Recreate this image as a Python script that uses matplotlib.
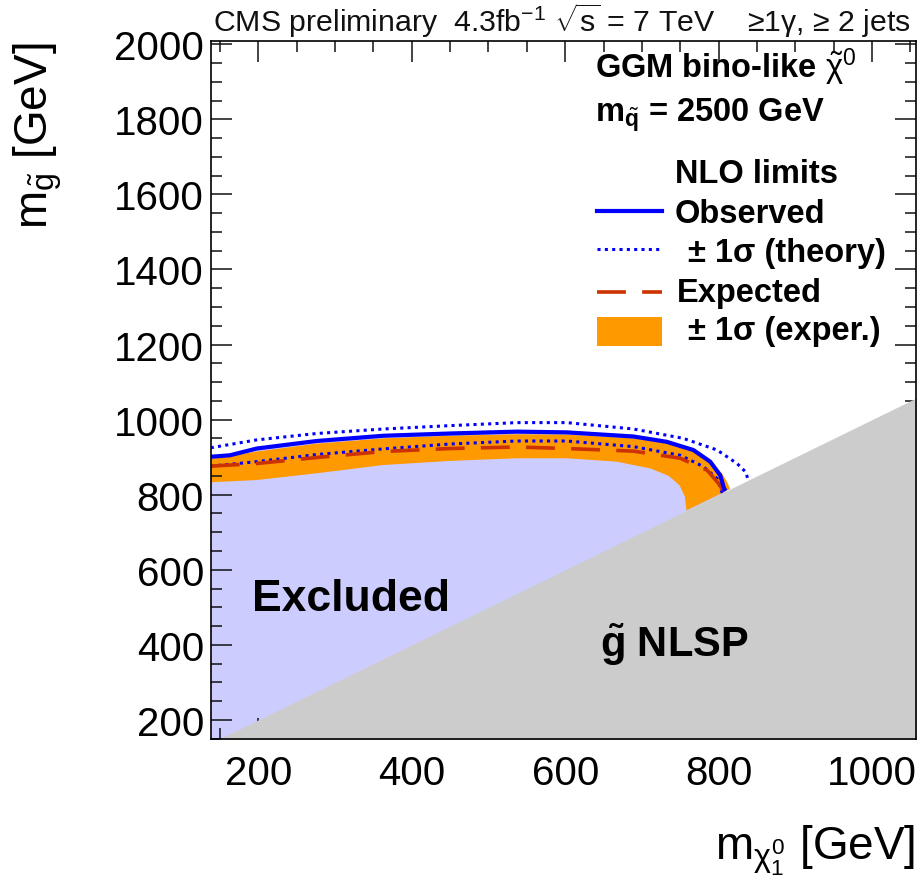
import matplotlib
matplotlib.use("Agg")
import matplotlib.pyplot as plt
from matplotlib.ticker import MultipleLocator
from matplotlib.patches import Rectangle
from matplotlib.lines import Line2D

plt.rcParams['font.family'] = ['Liberation Sans', 'DejaVu Sans']
plt.rcParams['mathtext.fontset'] = 'custom'
plt.rcParams['mathtext.rm'] = 'Liberation Sans'
plt.rcParams['mathtext.it'] = 'Liberation Sans'
plt.rcParams['mathtext.bf'] = 'Liberation Sans:bold'

# ---------------- data ----------------
# observed limit contour (m_chi, m_gluino)
obs_x = [138, 163, 198, 276, 363, 450, 537, 602, 689, 732, 767, 789, 802, 807, 809]
obs_y = [901, 905, 923, 943, 957, 963, 968, 966, 955, 941, 919, 888, 852, 817, 810]
# observed +1 sigma (theory)
thup_x = [138, 198, 276, 363, 450, 537, 602, 689, 754, 798, 824, 835, 838, 840]
thup_y = [925, 946, 963, 975, 984, 992, 992, 975, 950, 919, 883, 861, 843, 840]
# observed -1 sigma (theory)
thdn_x = [138, 198, 276, 363, 450, 537, 602, 689, 750, 780, 798, 804, 805]
thdn_y = [876, 888, 907, 922, 935, 943, 943, 928, 905, 875, 843, 808, 805]
# expected limit
exp_x = [138, 198, 276, 363, 450, 537, 602, 689, 750, 785, 802, 806]
exp_y = [876, 883, 899, 915, 923, 927, 923, 916, 897, 865, 825, 806]
# expected +1 sigma (exper.) band edge
eup_x = [138, 198, 276, 363, 450, 537, 602, 689, 732, 767, 790, 805, 812, 815]
eup_y = [895, 915, 936, 950, 957, 961, 960, 950, 937, 916, 886, 855, 830, 815]
# expected -1 sigma (exper.) band edge
edn_x = [138, 198, 276, 363, 450, 537, 602, 667, 711, 735, 749, 756, 758]
edn_y = [833, 839, 857, 879, 890, 897, 897, 888, 870, 850, 825, 795, 758]
# gluino-NLSP boundary (m_gluino = m_chi)
nlsp_x = [100, 1100]
nlsp_y = [100, 1100]

xticks = [200, 400, 600, 800, 1000]
yticks = [200, 400, 600, 800, 1000, 1200, 1400, 1600, 1800, 2000]

W, H = 922, 887
fig = plt.figure(figsize=(W / 100, H / 100), dpi=100)

L, R, T, B = 211, 915.8, 42.3, 740
ax = fig.add_axes([L / W, 1 - B / H, (R - L) / W, (B - T) / H])
ax.set_xlim(138.3, 1057)
ax.set_ylim(149, 2008)

# fills
ax.fill_between(obs_x, 0, obs_y, color='#CCCCFF', lw=0, zorder=1)
ax.fill(eup_x + edn_x[::-1], eup_y + edn_y[::-1], color='#FF9900', lw=0, zorder=2)
ax.fill_between(nlsp_x, 0, nlsp_y, color='#CCCCCC', lw=0, zorder=3)

# lines
ax.plot(thup_x, thup_y, color='#0000FF', lw=2.2, ls=(0, (1, 1.4)), zorder=4)
ax.plot(thdn_x, thdn_y, color='#0000FF', lw=2.2, ls=(0, (1, 1.4)), zorder=4)
ax.plot(exp_x, exp_y, color='#CC3300', lw=2.6, ls=(0, (8, 4.5)), zorder=4,
        solid_capstyle='butt', dash_capstyle='butt')
ax.plot(obs_x, obs_y, color='#0000FF', lw=3.0, zorder=5, solid_capstyle='butt')

# ticks
ax.set_xticks(xticks)
ax.set_yticks(yticks)
ax.xaxis.set_minor_locator(MultipleLocator(50))
ax.yaxis.set_minor_locator(MultipleLocator(50))
ax.tick_params(which='both', direction='in', top=True, right=True, width=1.1, color='#111111')
ax.tick_params(which='major', length=15)
ax.tick_params(which='minor', length=8)
ax.tick_params(axis='x', which='major', labelsize=29, pad=11)
ax.tick_params(axis='y', which='major', labelsize=29, pad=5)
for s in ax.spines.values():
    s.set_linewidth(1.2)
    s.set_zorder(10)
ax.set_axisbelow(False)

def fx(px):
    return px / W

def fy(py):
    return 1 - py / H

# axis titles
fig.text(fx(915), fy(860), r"m$_{\chi^{0}_{1}}$ [GeV]", ha='right', va='baseline', fontsize=33)
fig.text(fx(38), fy(43), r"m$_{\tilde{g}}$ [GeV]", ha='center', va='top', rotation=90, fontsize=33)

# header, fitted to width
hdr = fig.text(fx(213), fy(32), r"CMS preliminary  4.3fb$^{-1}$ $\sqrt{s}$ = 7 TeV    ≥1γ, ≥ 2 jets",
               ha='left', va='baseline', fontsize=20, color='#111111',
               family=['Liberation Sans Narrow', 'Liberation Sans', 'DejaVu Sans'])
fig.canvas.draw()
w = hdr.get_window_extent().width
hdr.set_fontsize(20 * (912 - 213) / w)

# region labels
fig.text(fx(252), fy(611), "Excluded", fontsize=32, fontweight='bold', ha='left', va='baseline')
fig.text(fx(600), fy(657), r"$\mathbf{\tilde{g}}$ NLSP", fontsize=30, fontweight='bold', ha='left', va='baseline')

# legend block
fs = 23.5
fig.text(fx(595), fy(78), r"GGM bino-like $\tilde{\chi}^{0}$", fontsize=fs, fontweight='bold', va='baseline')
fig.text(fx(595), fy(122), r"$\mathbf{m}_{\tilde{\mathbf{q}}}$ = 2500 GeV", fontsize=fs, fontweight='bold', va='baseline')
fig.text(fx(675), fy(183), "NLO limits", fontsize=fs, fontweight='bold', va='baseline')
fig.text(fx(675), fy(223), "Observed", fontsize=fs, fontweight='bold', va='baseline')
fig.text(fx(688), fy(262), "± 1σ (theory)", fontsize=fs, fontweight='bold', va='baseline')
fig.text(fx(677), fy(302), "Expected", fontsize=fs, fontweight='bold', va='baseline')
fig.text(fx(688), fy(340), "± 1σ (exper.)", fontsize=fs, fontweight='bold', va='baseline')

fig.add_artist(Line2D([fx(597), fx(662)], [fy(212), fy(212)], color='#0000FF', lw=3.0))
fig.add_artist(Line2D([fx(597), fx(662)], [fy(250), fy(250)], color='#0000FF', lw=2.2, ls=(0, (1, 1.4))))
fig.add_artist(Line2D([fx(597), fx(662)], [fy(293), fy(293)], color='#CC3300', lw=2.6, ls=(0, (8, 4.5)),
                      dash_capstyle='butt'))
fig.add_artist(Rectangle((fx(597), fy(347)), fx(662) - fx(597), fy(318) - fy(347),
                         transform=fig.transFigure, color='#FF9900', lw=0))

fig.savefig("out.png", dpi=100)
